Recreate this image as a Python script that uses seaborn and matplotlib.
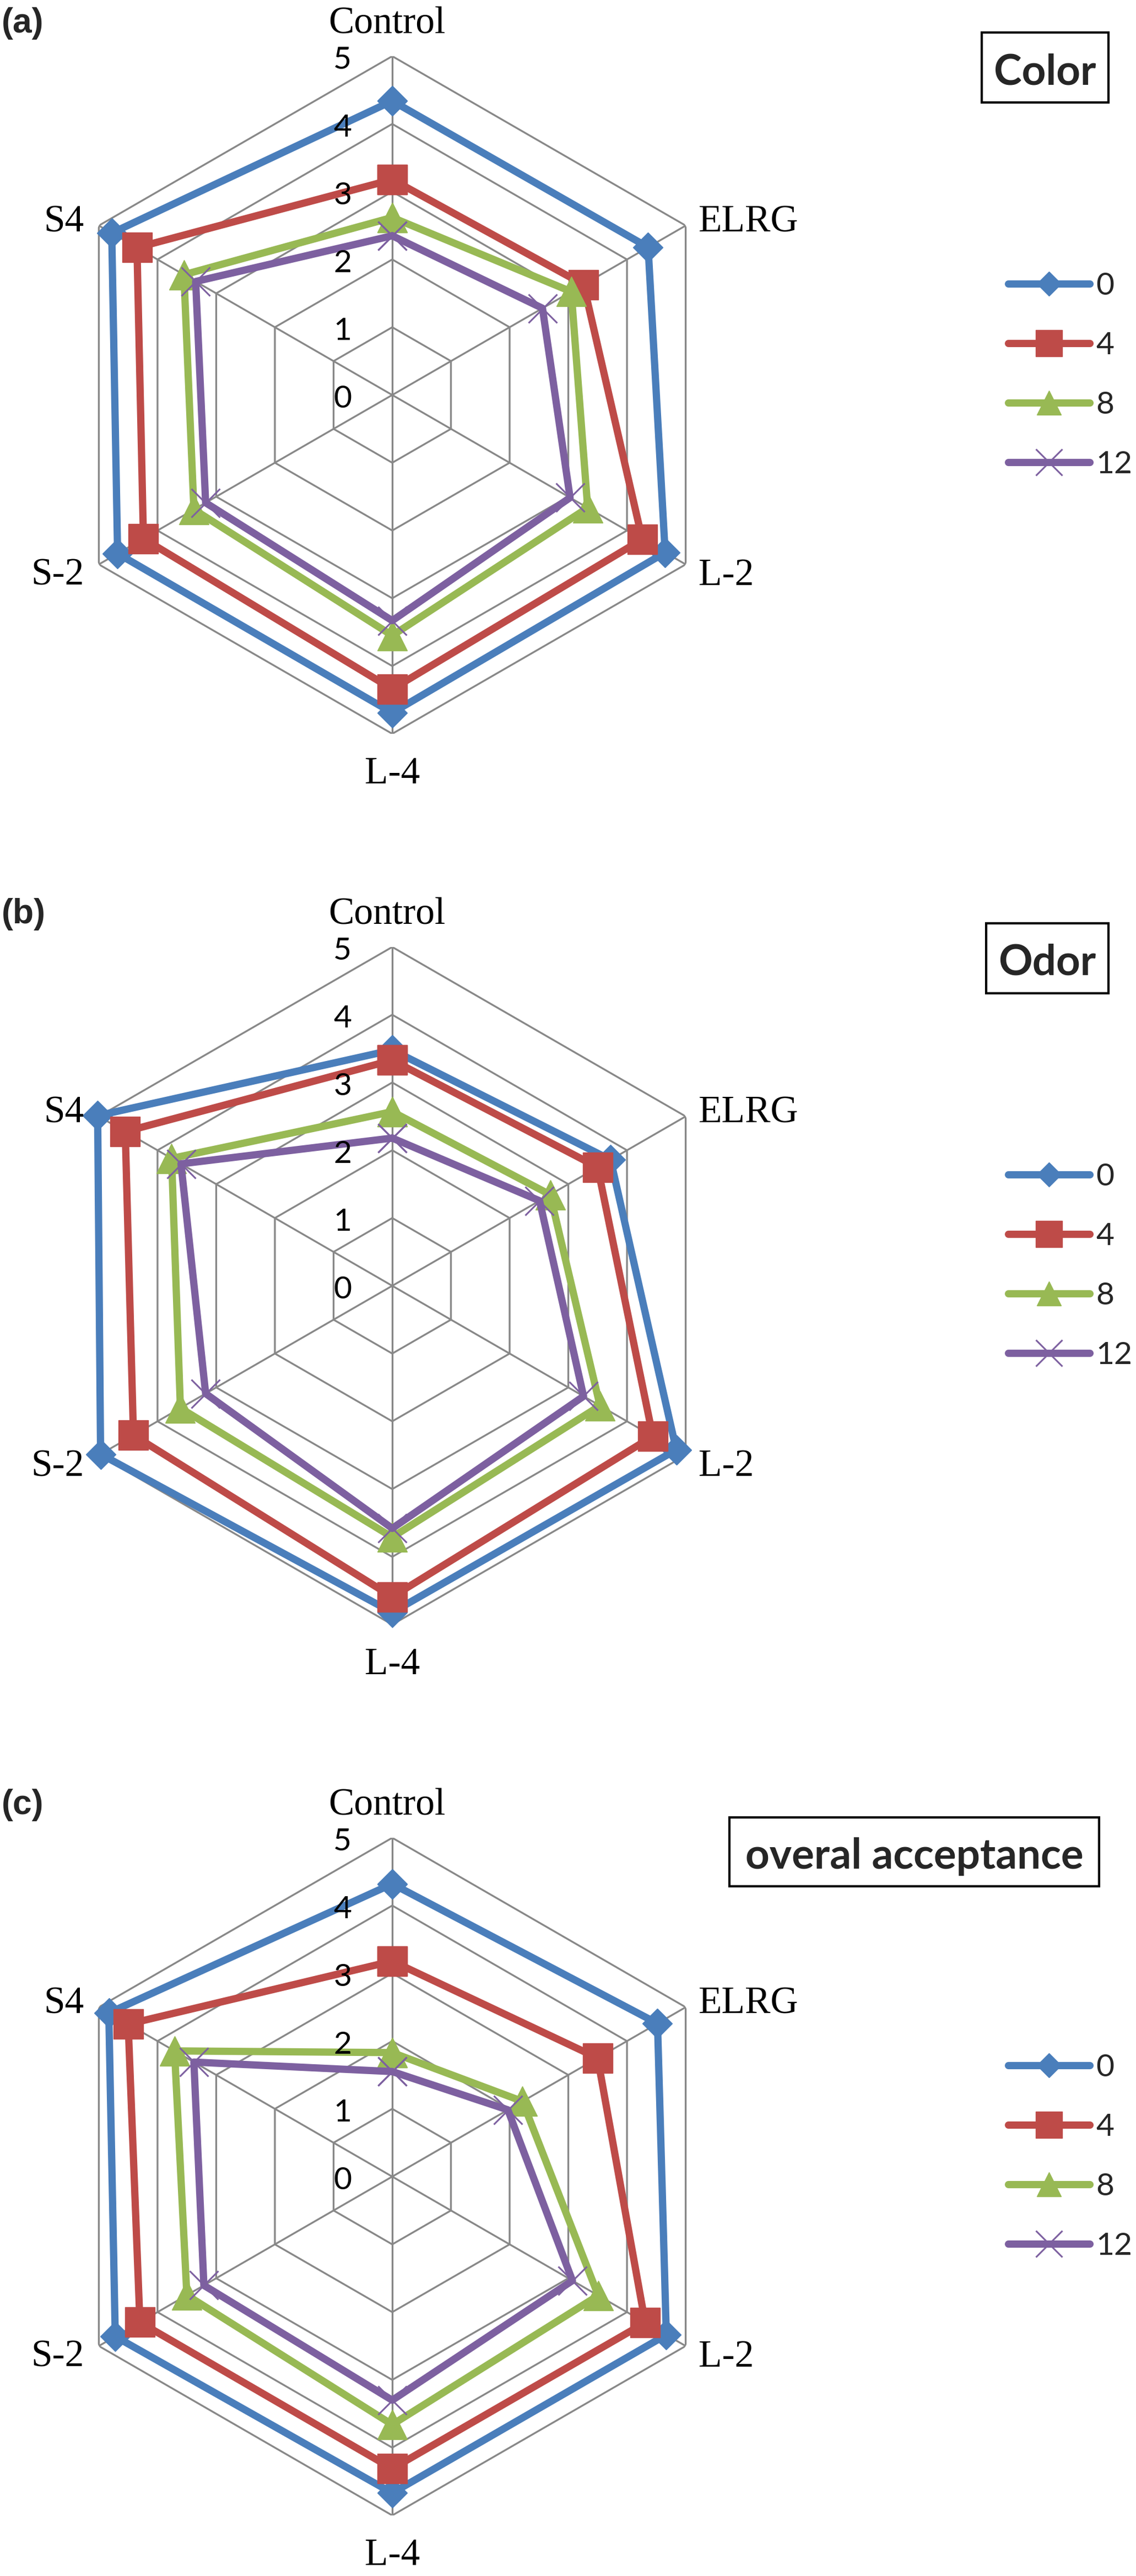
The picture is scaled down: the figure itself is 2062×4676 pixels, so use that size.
import numpy as np
import pandas as pd
import matplotlib
matplotlib.use("Agg")
import matplotlib.pyplot as plt
from matplotlib.lines import Line2D
from matplotlib.patches import Rectangle
import seaborn as sns

# radar axes (clockwise from top) and storage days
categories = ["Control", "ELRG", "L-2", "L-4", "S-2", "S4"]
days = ["0", "4", "8", "12"]

# (a) colour scores per storage day
color_d0 = [4.34, 4.36, 4.65, 4.69, 4.68, 4.78]
color_d4 = [3.18, 3.26, 4.26, 4.34, 4.24, 4.35]
color_d8 = [2.62, 3.05, 3.33, 3.55, 3.38, 3.55]
color_d12 = [2.35, 2.56, 3.03, 3.33, 3.18, 3.35]

# (b) odor scores
odor_d0 = [3.48, 3.72, 4.84, 4.82, 4.97, 5.02]
odor_d4 = [3.33, 3.50, 4.44, 4.59, 4.41, 4.55]
odor_d8 = [2.57, 2.69, 3.54, 3.71, 3.61, 3.76]
odor_d12 = [2.18, 2.51, 3.26, 3.58, 3.18, 3.60]

# (c) overall acceptance scores
overall_d0 = [4.32, 4.52, 4.67, 4.67, 4.72, 4.83]
overall_d4 = [3.18, 3.50, 4.31, 4.31, 4.30, 4.50]
overall_d8 = [1.83, 2.22, 3.51, 3.66, 3.50, 3.71]
overall_d12 = [1.55, 1.97, 3.07, 3.30, 3.21, 3.38]

ticks = [0, 1, 2, 3, 4, 5]

panels = [
    ("(a)", "Color", [color_d0, color_d4, color_d8, color_d12], (1782, 59, 2012, 186)),
    ("(b)", "Odor", [odor_d0, odor_d4, odor_d8, odor_d12], (1790, 59, 2012, 186)),
    ("(c)", "overal acceptance", [overall_d0, overall_d4, overall_d8, overall_d12], (1324, 65, 1995, 190)),
]

colors = ["#4A7EBB", "#BE4B48", "#98B954", "#7D60A0"]
markers = ["D", "s", "^", "x"]
msizes = [28, 39, 39, 37]
leg_msizes = [22, 34, 32, 34]
grid_col = "#888888"

sns.set_theme(style="white")
plt.rcParams["font.family"] = ["Lato", "DejaVu Sans"]

W, H = 2062, 4676
CX, CY0, R, STEP = 712, 717, 615, 1617

fig = plt.figure(figsize=(W / 100, H / 100), dpi=100)
fig.patch.set_facecolor("white")

theta = np.arange(len(categories)) * 2 * np.pi / len(categories)
theta_closed = np.append(theta, 2 * np.pi)

label_offsets = [(-7, 30, "center"), (17, -8, "left"), (17, -27, "left"),
                 (0, -65, "center"), (-19, -27, "right"), (-19, -8, "right")]

for k, (tag, title, series, box) in enumerate(panels):
    cy = CY0 + k * STEP
    ax = fig.add_axes([(CX - R) / W, 1 - (cy + R) / H, 2 * R / W, 2 * R / H],
                      projection="polar")
    ax.set_theta_zero_location("N")
    ax.set_theta_direction(-1)
    ax.patch.set_alpha(0)

    # hexagonal grid
    for r in ticks[1:]:
        ax.plot(theta_closed, [r] * len(theta_closed), color=grid_col, lw=2.4, zorder=1)
    for t in theta:
        ax.plot([t, t], [0, ticks[-1]], color=grid_col, lw=2.4, zorder=1)

    for vals, c, m, ms in zip(series, colors, markers, msizes):
        df = pd.DataFrame({"theta": theta_closed, "score": vals + vals[:1]})
        sns.lineplot(data=df, x="theta", y="score", sort=False, estimator=None,
                     color=c, marker=m, markersize=ms, mec=c,
                     mew=2.2 if m == "x" else 1, lw=9.5, clip_on=False,
                     solid_joinstyle="round", ax=ax, zorder=3)

    ax.set_xlim(0, 2 * np.pi)
    ax.set_ylim(0, ticks[-1])
    ax.grid(False)
    ax.set_xticks([])
    ax.set_yticks([])
    ax.spines["polar"].set_visible(False)
    ax.set_xlabel("")
    ax.set_ylabel("")

    for r in ticks:
        ax.annotate(str(r), xy=(0, r), xytext=(-65, -16.5), textcoords="offset points",
                    ha="center", va="baseline", fontsize=41, color="black", zorder=4)

    for t, name, (dx, dy, ha) in zip(theta, categories, label_offsets):
        ax.annotate(name, xy=(t, ticks[-1]), xytext=(dx, dy), textcoords="offset points",
                    ha=ha, va="baseline", fontsize=50, family="Liberation Serif",
                    color="black", annotation_clip=False)

    handles = [Line2D([0], [0], color=c, lw=9.5, marker=m, markersize=ms, mec=c,
                      mew=2.2 if m == "x" else 1, solid_capstyle="round")
               for c, m, ms in zip(colors, markers, leg_msizes)]
    ax.legend(handles, days, loc="upper left",
              bbox_to_anchor=(1830 / W, 1 - (494 + k * STEP) / H),
              bbox_transform=fig.transFigure, frameon=False, borderpad=0,
              borderaxespad=0, handlelength=2.6, handletextpad=0.2,
              labelspacing=1.0, fontsize=41)

    fig.text(3 / W, 1 - (59 + k * STEP) / H, tag, ha="left", va="baseline",
             fontsize=45, fontweight="bold", family="Liberation Sans")

    x0, y0, x1, y1 = box
    fig.add_artist(Rectangle((x0 / W, 1 - (y1 + k * STEP) / H), (x1 - x0) / W,
                             (y1 - y0) / H, transform=fig.transFigure,
                             fc="white", ec="black", lw=3))
    fig.text((x0 + x1) / 2 / W, 1 - ((y0 + y1) / 2 + 2 + k * STEP) / H, title,
             ha="center", va="center_baseline", fontsize=55, fontweight="bold")

fig.savefig("out.png", dpi=100, facecolor="white")
